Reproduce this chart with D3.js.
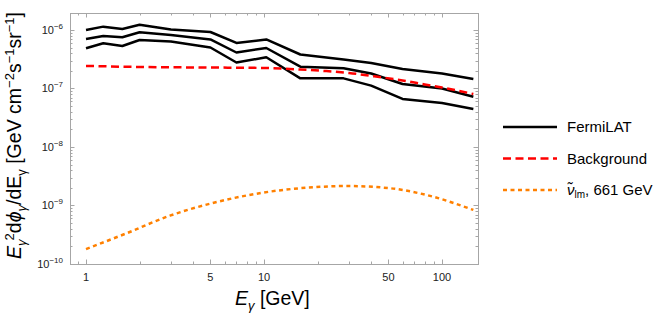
<!DOCTYPE html>
<html>
<head>
<meta charset="utf-8">
<script src="https://cdn.jsdelivr.net/npm/d3@7"></script>
<style>
  body { margin: 0; background: #fff; }
  text { font-family: "Liberation Sans", Arial, sans-serif; }
</style>
</head>
<body>
<div id="chart"></div>
<script>
// FermiLAT band: energies (GeV) and upper / central / lower flux
const fermiE = [1, 1.25, 1.6, 2, 3, 5, 7, 10.3, 16, 28, 40, 60, 100, 150];
const fermiUpper = [1.0e-6, 1.14e-6, 1.04e-6, 1.23e-6, 1.02e-6, 0.924e-6, 0.60e-6, 0.688e-6, 0.381e-6, 0.313e-6, 0.273e-6, 0.216e-6, 0.180e-6, 0.145e-6];
const fermiMid = [0.702e-6, 0.789e-6, 0.750e-6, 0.913e-6, 0.821e-6, 0.688e-6, 0.412e-6, 0.492e-6, 0.236e-6, 0.221e-6, 0.180e-6, 0.119e-6, 0.100e-6, 0.0724e-6];
const fermiLower = [0.487e-6, 0.593e-6, 0.533e-6, 0.675e-6, 0.636e-6, 0.502e-6, 0.278e-6, 0.341e-6, 0.149e-6, 0.149e-6, 0.112e-6, 0.0662e-6, 0.0565e-6, 0.0446e-6];

// background model
const bgE = [1, 2, 5, 10, 16, 22, 30, 40, 60, 80, 100, 150];
const bgFlux = [2.43e-7, 2.33e-7, 2.28e-7, 2.24e-7, 2.11e-7, 1.99e-7, 1.84e-7, 1.64e-7, 1.37e-7, 1.17e-7, 1.04e-7, 8.05e-8];

// sneutrino signal, 661 GeV
const sigE = [1, 1.69, 2.96, 5.08, 9.9, 18.9, 29.2, 51.2, 82, 150];
const sigFlux = [1.80e-10, 3.35e-10, 6.70e-10, 1.09e-9, 1.66e-9, 2.05e-9, 2.15e-9, 1.97e-9, 1.51e-9, 8.4e-10];

const xTickVals = [1, 5, 10, 50, 100];
const yTickExps = [-10, -9, -8, -7, -6];

const width = 664, height = 320;
const margin = {left: 70, right: 186, top: 13, bottom: 56};

const svg = d3.select("#chart").append("svg")
    .attr("width", width)
    .attr("height", height);

const x = d3.scaleLog()
    .domain([0.813, 159.3])
    .range([margin.left, width - margin.right]);

const y = d3.scaleLog()
    .domain([1e-10, 1.95e-6])
    .range([height - margin.bottom, margin.top]);

const frameColor = "#a6a6a6";
const x0 = x.range()[0], x1 = x.range()[1];
const y0 = y.range()[0], y1 = y.range()[1];

// ticks (inward, on all four sides)
const xMinor = [];
[0.1, 1, 10, 100].forEach(d => {
    for (let k = 1; k <= 9; k++) {
        const v = d * k;
        if (v >= x.domain()[0] && v <= x.domain()[1]) xMinor.push(v);
    }
});
const yMinor = [];
for (let e = -10; e <= -6; e++) {
    for (let k = 1; k <= 9; k++) {
        const v = k * Math.pow(10, e);
        if (v >= y.domain()[0] && v <= y.domain()[1]) yMinor.push({v: v, major: k === 1});
    }
}

const ticks = svg.append("g").attr("stroke", frameColor).attr("stroke-width", 1);
xMinor.forEach(v => {
    const major = xTickVals.includes(v);
    const len = major ? 4.5 : 2.5;
    const px = Math.round(x(v)) + 0.5;
    ticks.append("line").attr("x1", px).attr("x2", px).attr("y1", y0).attr("y2", y0 - len);
    ticks.append("line").attr("x1", px).attr("x2", px).attr("y1", y1).attr("y2", y1 + len);
});
yMinor.forEach(d => {
    const len = d.major ? 4.5 : 2.5;
    const py = Math.round(y(d.v)) + 0.5;
    ticks.append("line").attr("x1", x0).attr("x2", x0 + len).attr("y1", py).attr("y2", py);
    ticks.append("line").attr("x1", x1).attr("x2", x1 - len).attr("y1", py).attr("y2", py);
});

svg.append("rect")
    .attr("x", x0 + 0.5).attr("y", y1 + 0.5)
    .attr("width", x1 - x0).attr("height", y0 - y1)
    .attr("fill", "none").attr("stroke", frameColor).attr("stroke-width", 1);

// tick labels
svg.append("g").selectAll("text")
    .data(xTickVals)
    .join("text")
    .attr("x", d => x(d))
    .attr("y", y0 + 17)
    .attr("text-anchor", "middle")
    .attr("font-size", 11)
    .attr("fill", "#222")
    .text(d => d);

const yl = svg.append("g").selectAll("text")
    .data(yTickExps)
    .join("text")
    .attr("x", x0 - 7)
    .attr("y", d => y(Math.pow(10, d)) + 4)
    .attr("text-anchor", "end")
    .attr("font-size", 11)
    .attr("fill", "#222");
yl.append("tspan").text("10");
yl.append("tspan").attr("dy", -5).attr("font-size", 8).text(d => "\u2212" + Math.abs(d));

// curves
const line = d3.line()
    .x(d => x(d[0]))
    .y(d => y(d[1]));
const smooth = d3.line()
    .x(d => x(d[0]))
    .y(d => y(d[1]))
    .curve(d3.curveMonotoneX);

const plot = svg.append("g");
[fermiUpper, fermiMid, fermiLower].forEach(series => {
    plot.append("path")
        .datum(fermiE.map((e, i) => [e, series[i]]))
        .attr("d", line)
        .attr("fill", "none")
        .attr("stroke", "#000")
        .attr("stroke-width", 2.5)
        .attr("stroke-linejoin", "round");
});

plot.append("path")
    .datum(bgE.map((e, i) => [e, bgFlux[i]]))
    .attr("d", smooth)
    .attr("fill", "none")
    .attr("stroke", "#ff0000")
    .attr("stroke-width", 2.5)
    .attr("stroke-dasharray", "8,4.5");

plot.append("path")
    .datum(sigE.map((e, i) => [e, sigFlux[i]]))
    .attr("d", smooth)
    .attr("fill", "none")
    .attr("stroke", "#ff8000")
    .attr("stroke-width", 2.5)
    .attr("stroke-dasharray", "4,3.5");

// legend
const legendItems = [
    {color: "#000", dash: null},
    {color: "#ff0000", dash: "8,4.5"},
    {color: "#ff8000", dash: "4,3.5"}
];
const lg = svg.append("g");
legendItems.forEach((d, i) => {
    const ly = 127 + i * 31.5;
    lg.append("line")
        .attr("x1", 503).attr("x2", 557)
        .attr("y1", ly).attr("y2", ly)
        .attr("stroke", d.color)
        .attr("stroke-width", 2.5)
        .attr("stroke-dasharray", d.dash);
});
lg.append("text").attr("x", 567).attr("y", 132).attr("font-size", 15).text("FermiLAT");
lg.append("text").attr("x", 567).attr("y", 163.5).attr("font-size", 15).text("Background");
const sig = lg.append("text").attr("x", 567).attr("y", 195).attr("font-size", 15);
sig.append("tspan").attr("font-style", "italic").text("\u03bd\u0303");
sig.append("tspan").attr("dy", 3).attr("font-size", 10).text("lm");
sig.append("tspan").attr("dy", -3).text(", 661 GeV");

// axis labels
const xl = svg.append("text")
    .attr("x", 235).attr("y", 305)
    .attr("font-size", 19.5);
xl.append("tspan").attr("font-style", "italic").text("E");
xl.append("tspan").attr("dy", 5).attr("font-size", 13).attr("font-style", "italic").text("\u03b3");
xl.append("tspan").attr("dy", -5).text(" [GeV]");

const ylab = svg.append("text")
    .attr("transform", `translate(21, ${(y0 + y1) / 2 - 3}) rotate(-90)`)
    .attr("text-anchor", "middle")
    .attr("font-size", 19.5);
ylab.append("tspan").attr("font-style", "italic").text("E");
ylab.append("tspan").attr("dy", 5).attr("font-size", 13).attr("font-style", "italic").text("\u03b3");
ylab.append("tspan").attr("dy", -12).attr("dx", -1).attr("font-size", 13).text("2");
ylab.append("tspan").attr("dy", 7).text("d");
ylab.append("tspan").attr("font-style", "italic").text("\u03d5");
ylab.append("tspan").attr("dy", 5).attr("font-size", 13).attr("font-style", "italic").text("\u03b3");
ylab.append("tspan").attr("dy", -5).text("/dE");
ylab.append("tspan").attr("dy", 5).attr("font-size", 13).text("\u03b3");
ylab.append("tspan").attr("dy", -5).text(" [GeV cm");
ylab.append("tspan").attr("dy", -7).attr("font-size", 13).text("\u22122");
ylab.append("tspan").attr("dy", 7).text("s");
ylab.append("tspan").attr("dy", -7).attr("font-size", 13).text("\u22121");
ylab.append("tspan").attr("dy", 7).text("sr");
ylab.append("tspan").attr("dy", -7).attr("font-size", 13).text("\u22121");
ylab.append("tspan").attr("dy", 7).text("]");
</script>
</body>
</html>
